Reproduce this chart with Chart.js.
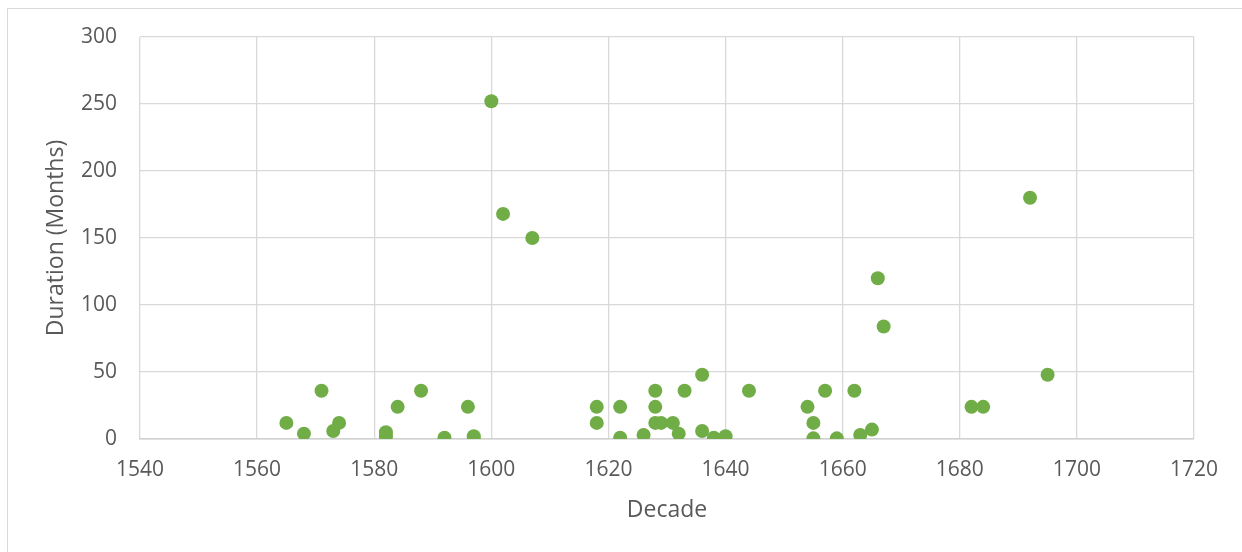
<!DOCTYPE html>
<html>
<head>
<meta charset="utf-8">
<script src="https://cdn.jsdelivr.net/npm/chart.js@4/dist/chart.umd.min.js"></script>
<style>
  html, body { margin: 0; padding: 0; background: #ffffff; overflow: hidden; }
  #wrap { position: relative; width: 1242px; height: 552px; }
  #frame {
    position: absolute; left: 7px; top: 8px; width: 1400px; height: 700px;
    border-left: 1.5px solid #d9d9d9; border-top: 1.5px solid #d9d9d9;
  }
  canvas { position: absolute; left: 0; top: 0; }
</style>
</head>
<body>
<div id="wrap">
  <div id="frame"></div>
  <canvas id="chart" width="1242" height="552"></canvas>
</div>
<script>
// Year each episode began and how long it lasted (months)
const years = [
  1565, 1568, 1571, 1573, 1574, 1582, 1582, 1584, 1588, 1592, 1596, 1597, 1597,
  1600, 1602, 1607,
  1618, 1618, 1622, 1622, 1626, 1628, 1628, 1628, 1629, 1631, 1632, 1633,
  1636, 1636, 1638, 1640, 1644,
  1654, 1655, 1655, 1657, 1659, 1662, 1663, 1665, 1666, 1667,
  1682, 1684, 1692, 1695
];
const months = [
  12, 4, 36, 6, 12, 5, 2, 24, 36, 1, 24, 2, 0,
  252, 168, 150,
  24, 12, 24, 1, 3, 36, 24, 12, 12, 12, 4, 36,
  48, 6, 1, 2, 36,
  24, 12, 0.5, 36, 0.5, 36, 3, 7, 120, 84,
  24, 24, 180, 48
];
const xTicks = [1540, 1560, 1580, 1600, 1620, 1640, 1660, 1680, 1700, 1720];
const yTicks = [0, 50, 100, 150, 200, 250, 300];

const points = years.map((y, i) => ({ x: y, y: months[i] }));

const FONT = '"Open Sans", "Liberation Sans", sans-serif';
const TEXT = '#595959';
const GRID = '#d9d9d9';

new Chart(document.getElementById('chart'), {
  type: 'scatter',
  data: {
    datasets: [{
      label: 'Duration',
      data: points,
      backgroundColor: '#70ad47',
      borderColor: '#70ad47',
      borderWidth: 0,
      pointRadius: 7,
      pointHoverRadius: 7
    }]
  },
  options: {
    responsive: false,
    animation: false,
    events: [],
    layout: { padding: { top: 37, right: 48, bottom: 0, left: 0 } },
    plugins: { legend: { display: false }, tooltip: { enabled: false } },
    scales: {
      x: {
        type: 'linear',
        min: xTicks[0],
        max: xTicks[xTicks.length - 1],
        afterBuildTicks: s => { s.ticks = xTicks.map(v => ({ value: v })); },
        afterFit: s => { s.height = 113; },
        grid: { color: GRID, lineWidth: 1.3, drawTicks: false },
        border: { color: '#d0d0d0', width: 1.5 },
        ticks: {
          padding: 18,
          color: TEXT,
          font: { family: FONT, size: 21 },
          callback: v => String(v)
        },
        title: {
          display: true,
          text: 'Decade',
          color: TEXT,
          font: { family: FONT, size: 23 },
          padding: { top: 0, bottom: 28 }
        }
      },
      y: {
        type: 'linear',
        min: yTicks[0],
        max: yTicks[yTicks.length - 1],
        afterBuildTicks: s => { s.ticks = yTicks.map(v => ({ value: v })); },
        afterFit: s => { s.width = 140; },
        grid: { color: GRID, lineWidth: 1.3, drawTicks: false },
        border: { display: false },
        ticks: {
          padding: 23,
          color: TEXT,
          font: { family: FONT, size: 21 },
          callback: v => String(v)
        },
        title: {
          display: true,
          text: 'Duration (Months)',
          color: TEXT,
          font: { family: FONT, size: 23 },
          padding: { top: 43, bottom: 0 }
        }
      }
    }
  }
});
</script>
</body>
</html>
